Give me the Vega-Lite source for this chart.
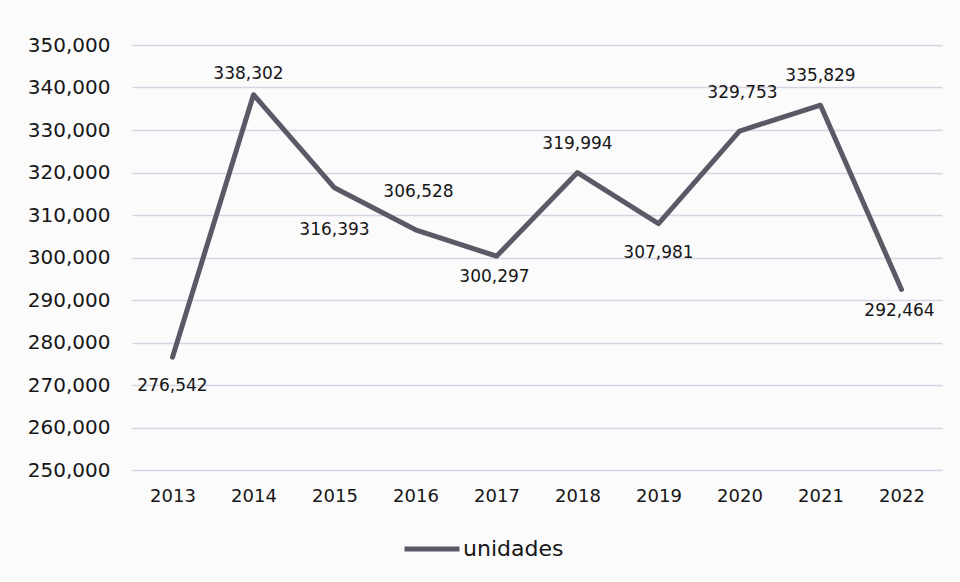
{
  "$schema": "https://vega.github.io/schema/vega-lite/v6.json",
  "width": 810,
  "height": 425,
  "autosize": "none",
  "padding": {"left": 132, "top": 45, "right": 18, "bottom": 112},
  "background": "#fbfbfc",
  "config": {
    "view": {"stroke": null},
    "font": "DejaVu Sans",
    "text": {"font": "DejaVu Sans", "fontSize": 17, "color": "#161616"}
  },
  "data": {
    "values": [
      {"year": "2013", "unidades": 276542, "serie": "unidades"},
      {"year": "2014", "unidades": 338302, "serie": "unidades"},
      {"year": "2015", "unidades": 316393, "serie": "unidades"},
      {"year": "2016", "unidades": 306528, "serie": "unidades"},
      {"year": "2017", "unidades": 300297, "serie": "unidades"},
      {"year": "2018", "unidades": 319994, "serie": "unidades"},
      {"year": "2019", "unidades": 307981, "serie": "unidades"},
      {"year": "2020", "unidades": 329753, "serie": "unidades"},
      {"year": "2021", "unidades": 335829, "serie": "unidades"},
      {"year": "2022", "unidades": 292464, "serie": "unidades"}
    ]
  },
  "encoding": {
    "x": {
      "field": "year", "type": "ordinal",
      "scale": {"type": "point", "padding": 0.5},
      "axis": {"title": null, "labelAngle": 0, "labelFontSize": 18, "labelColor": "#161616", "labelPadding": 17, "ticks": false, "domain": false, "labelFont": "DejaVu Sans"}
    },
    "y": {
      "field": "unidades", "type": "quantitative",
      "scale": {"domain": [250000, 350000], "nice": false, "zero": false},
      "axis": {"title": null, "tickCount": 10, "format": ",.0f", "labelFontSize": 20, "labelColor": "#161616", "labelPadding": 22, "ticks": false, "domain": false, "gridColor": "#d6d3e2", "gridWidth": 1.5, "labelFont": "DejaVu Sans"}
    }
  },
  "layer": [
    {
      "mark": {"type": "line", "strokeWidth": 5, "strokeCap": "round", "strokeJoin": "round"},
      "encoding": {
        "color": {
          "field": "serie", "type": "nominal",
          "scale": {"range": ["#5a5a66"]},
          "legend": {"title": null, "orient": "none", "legendX": 270, "legendY": 474, "symbolType": "stroke", "symbolSize": 3025, "symbolStrokeWidth": 5, "labelFontSize": 22, "labelColor": "#161616", "labelFont": "DejaVu Sans", "labelOffset": 1}
        }
      }
    },
    {
      "transform": [{"filter": {"field": "year", "oneOf": ["2014"]}}],
      "mark": {"type": "text", "dy": -21, "dx": -5},
      "encoding": {"text": {"field": "unidades", "type": "quantitative", "format": ","}}
    },
    {
      "transform": [{"filter": {"field": "year", "oneOf": ["2018", "2021"]}}],
      "mark": {"type": "text", "dy": -29},
      "encoding": {"text": {"field": "unidades", "type": "quantitative", "format": ","}}
    },
    {
      "transform": [{"filter": {"field": "year", "oneOf": ["2016", "2020"]}}],
      "mark": {"type": "text", "dy": -38, "dx": 3},
      "encoding": {"text": {"field": "unidades", "type": "quantitative", "format": ","}}
    },
    {
      "transform": [{"filter": {"field": "year", "oneOf": ["2017", "2022"]}}],
      "mark": {"type": "text", "dy": 21, "dx": -2},
      "encoding": {"text": {"field": "unidades", "type": "quantitative", "format": ","}}
    },
    {
      "transform": [{"filter": {"field": "year", "oneOf": ["2013", "2019"]}}],
      "mark": {"type": "text", "dy": 29},
      "encoding": {"text": {"field": "unidades", "type": "quantitative", "format": ","}}
    },
    {
      "transform": [{"filter": {"field": "year", "oneOf": ["2015"]}}],
      "mark": {"type": "text", "dy": 42},
      "encoding": {"text": {"field": "unidades", "type": "quantitative", "format": ","}}
    }
  ]
}
